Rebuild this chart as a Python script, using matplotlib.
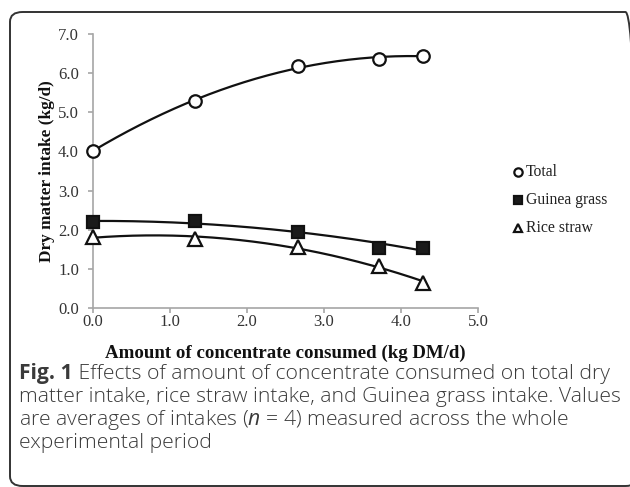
import numpy as np
import matplotlib.pyplot as plt
from matplotlib.patches import FancyBboxPatch

plt.rcParams['mathtext.fontset'] = 'custom'
plt.rcParams['mathtext.it'] = 'Open Sans:italic'
plt.rcParams['mathtext.rm'] = 'Open Sans'

# data
concentrate = [0.0, 1.33, 2.66, 3.71, 4.29]
total = [4.02, 5.30, 6.17, 6.37, 6.45]
guinea_grass = [2.20, 2.21, 1.95, 1.54, 1.54]
rice_straw = [1.82, 1.76, 1.56, 1.08, 0.64]
series_names = ['Total', 'Guinea grass', 'Rice straw']
x_ticks = [0.0, 1.0, 2.0, 3.0, 4.0, 5.0]
y_ticks = [0.0, 1.0, 2.0, 3.0, 4.0, 5.0, 6.0, 7.0]

W, H = 630, 487
fig = plt.figure(figsize=(W / 100, H / 100), dpi=100)

# rounded frame around figure + caption (right side runs off the image)
frame = FancyBboxPatch((10 / W, 1 / H), 628 / W, 474 / H,
                       boxstyle='round,pad=0,rounding_size=0.02',
                       transform=fig.transFigure, fill=False,
                       edgecolor='#333333', linewidth=1.4, zorder=0)
fig.patches.append(frame)

ax = fig.add_axes([93 / W, (H - 308) / H, 385 / W, 274 / H])

serif = 'Liberation Serif'
grey = '#a6a6a6'
markers = ['o', 's', '^']
faces = ['white', '#1a1a1a', 'white']
sizes = [9, 9, 9.5]
xs = np.linspace(min(concentrate), max(concentrate), 200)
for vals, m, fc, ms in zip([total, guinea_grass, rice_straw], markers, faces, sizes):
    coef = np.polyfit(concentrate, vals, 2)
    ax.plot(xs, np.polyval(coef, xs), color='#111111', lw=1.6, zorder=2)
    ax.plot(concentrate, vals, ls='none', marker=m, ms=ms, mfc=fc,
            mec='#111111', mew=1.6, zorder=3, clip_on=False)

ax.set_xlim(0, 5)
ax.set_ylim(0, 7)
ax.set_xticks(x_ticks)
ax.set_yticks(y_ticks)
ax.set_xticklabels([f'{v:.1f}' for v in x_ticks])
ax.set_yticklabels([f'{v:.1f}' for v in y_ticks])
for s in ['top', 'right']:
    ax.spines[s].set_visible(False)
for s in ['left', 'bottom']:
    ax.spines[s].set_color(grey)
    ax.spines[s].set_linewidth(1.2)
ax.tick_params(direction='out', length=3.6, width=1.2, color=grey,
               labelsize=12, labelcolor='#333333')
ax.tick_params(axis='x', pad=1)
ax.tick_params(axis='y', pad=6.5)
for lbl in ax.get_xticklabels() + ax.get_yticklabels():
    lbl.set_fontfamily(serif)

ax.set_xlabel('Amount of concentrate consumed (kg DM/d)', fontfamily=serif,
              fontweight='bold', fontsize=13.6, color='#111111', labelpad=10)
ax.set_ylabel('Dry matter intake (kg/d)', fontfamily=serif,
              fontweight='bold', fontsize=12.4, color='#111111', labelpad=2)

# legend at right
leg_y = [172, 200, 228]
for name, m, fc, y in zip(series_names, markers, faces, leg_y):
    fig.lines.append(plt.Line2D([518 / W], [(H - y) / H], transform=fig.transFigure,
                                marker=m, ms=6, mfc=fc, mec='#111111', mew=1.6, ls='none'))
    fig.text(526 / W, (H - y) / H, name, fontfamily=serif, fontsize=11.3,
             color='#222222', va='center', ha='left')

# caption
cap_font = 'Open Sans'
cap_size = 15.2
cap_color = '#3a3a3a'
line_y = [374, 397, 420, 443]
fig_lbl = fig.text(19 / W, (H - line_y[0]) / H, 'Fig. 1', fontfamily=cap_font,
                   fontweight='bold', fontsize=cap_size, color=cap_color, va='center')
ax.annotate(' Effects of amount of concentrate consumed on total dry',
            xy=(1, 0.5), xycoords=fig_lbl, va='center', ha='left',
            fontfamily=cap_font, fontweight='light', fontsize=cap_size, color=cap_color)
caption_rest = ['matter intake, rice straw intake, and Guinea grass intake. Values',
                'are averages of intakes ($n$ = 4) measured across the whole',
                'experimental period']
for txt, y in zip(caption_rest, line_y[1:]):
    fig.text(19 / W, (H - y) / H, txt, fontfamily=cap_font, fontweight='light',
             fontsize=cap_size, color=cap_color, va='center')

fig.savefig('out.png', dpi=100)
